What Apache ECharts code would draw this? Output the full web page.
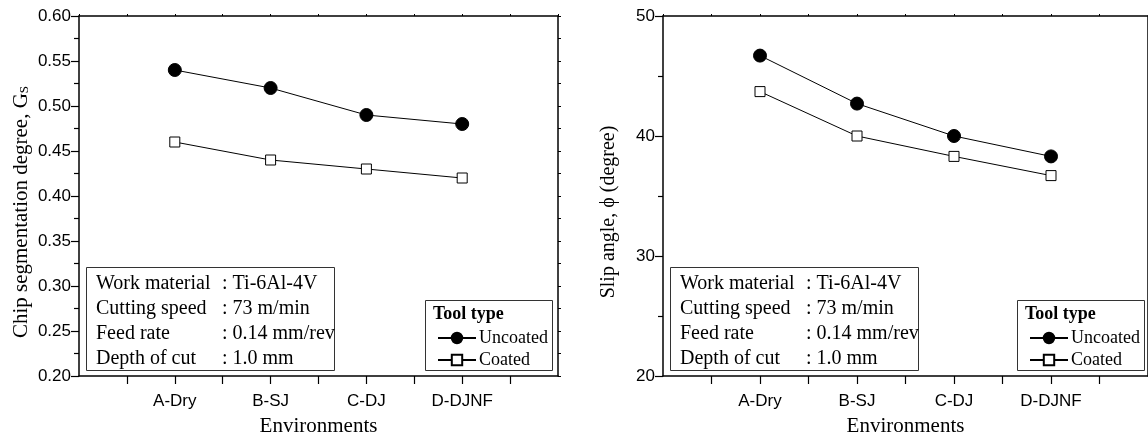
<!DOCTYPE html>
<html>
<head>
<meta charset="utf-8">
<title>Chip segmentation degree and slip angle</title>
<script src="https://cdn.jsdelivr.net/npm/echarts@6/dist/echarts.min.js"></script>
<style>
  html, body { margin: 0; padding: 0; background: #fff; }
  #chart { width: 1148px; height: 442px; }
</style>
</head>
<body>
<div id="chart"></div>
<script>
// Cutting environments along the x axis
const environments = ['A-Dry', 'B-SJ', 'C-DJ', 'D-DJNF'];

// Chip segmentation degree, Gs
const gsUncoated = [0.54, 0.52, 0.49, 0.48];
const gsCoated = [0.46, 0.44, 0.43, 0.42];

// Slip angle (degree)
const slipUncoated = [46.7, 42.7, 40.0, 38.3];
const slipCoated = [43.7, 40.0, 38.3, 36.7];

// Machining conditions shown in the boxed note
const conditionNames = ['Work material', 'Cutting speed', 'Feed rate', 'Depth of cut'];
const conditionValues = [': Ti-6Al-4V', ': 73 m/min', ': 0.14 mm/rev', ': 1.0 mm'];

const seriesNames = ['Uncoated', 'Coated'];

const SERIF = '"Liberation Serif", "Times New Roman", serif';
const SANS = '"Liberation Sans", Arial, sans-serif';

const grids = [
  { left: 79, top: 16, width: 479, height: 364 },
  { left: 663, top: 16, width: 487, height: 364 }
];

function toPoints(values) {
  return values.map((v, i) => [i + 1, v]);
}

function bottomAxis(gridIndex) {
  return {
    type: 'value', gridIndex, position: 'bottom',
    min: 0, max: 5, interval: 0.5,
    name: 'Environments', nameLocation: 'middle', nameGap: 40,
    nameTextStyle: { fontFamily: SERIF, fontSize: 21, color: '#000' },
    axisLine: { onZero: false, lineStyle: { color: '#000', width: 1.5 } },
    axisTick: { show: true, inside: false, length: 8, lineStyle: { color: '#000', width: 1.2 } },
    axisLabel: {
      margin: 17, fontFamily: SANS, fontSize: 17, color: '#000',
      showMinLabel: false, showMaxLabel: false,
      formatter: v => (Number.isInteger(v) && v >= 1 && v <= environments.length) ? environments[v - 1] : ''
    },
    splitLine: { show: false }
  };
}

function topAxis(gridIndex) {
  return {
    type: 'value', gridIndex, position: 'top',
    min: 0, max: 5, interval: 0.5,
    axisLine: { onZero: false, lineStyle: { color: '#000', width: 1.5 } },
    axisTick: { show: true, inside: false, length: 2, lineStyle: { color: '#000', width: 1 } },
    axisLabel: { show: false },
    splitLine: { show: false }
  };
}

function leftAxis(gridIndex, min, max, interval, digits) {
  return {
    type: 'value', gridIndex, position: 'left',
    min, max, interval,
    axisLine: { onZero: false, lineStyle: { color: '#000', width: 1.5 } },
    axisTick: { show: true, inside: false, length: 8, lineStyle: { color: '#000', width: 1.2 } },
    minorTick: { show: true, splitNumber: 2, length: 5, lineStyle: { color: '#000', width: 1.2 } },
    axisLabel: {
      margin: 8, fontFamily: SANS, fontSize: 17, color: '#000',
      formatter: v => v.toFixed(digits)
    },
    splitLine: { show: false },
    minorSplitLine: { show: false }
  };
}

function rightAxis(gridIndex, min, max, interval) {
  return {
    type: 'value', gridIndex, position: 'right',
    min, max, interval,
    axisLine: { onZero: false, lineStyle: { color: '#000', width: 1.5 } },
    axisTick: { show: true, inside: false, length: 3, lineStyle: { color: '#000', width: 1 } },
    minorTick: { show: true, splitNumber: 2, length: 3, lineStyle: { color: '#000', width: 1 } },
    axisLabel: { show: false },
    splitLine: { show: false },
    minorSplitLine: { show: false }
  };
}

function lineSeries(name, values, axisIdx, filled) {
  return {
    name, type: 'line', xAxisIndex: axisIdx, yAxisIndex: axisIdx,
    data: toPoints(values),
    symbol: filled ? 'circle' : 'rect',
    symbolSize: filled ? 13 : 10,
    showAllSymbol: true,
    lineStyle: { color: '#000', width: 1 },
    itemStyle: filled
      ? { color: '#000', borderColor: '#000', borderWidth: 1 }
      : { color: '#fff', borderColor: '#000', borderWidth: 1 },
    emphasis: { disabled: true },
    z: 3
  };
}

// Boxed note with machining conditions plus the framed legend area
function panelGraphics(g) {
  const els = [];
  const boxX = g.left + 7, boxY = 267, boxW = 248, boxH = 103;
  els.push({
    type: 'rect', z: 1,
    shape: { x: boxX + 0.5, y: boxY + 0.5, width: boxW, height: boxH },
    style: { fill: 'none', stroke: '#333', lineWidth: 1 }
  });
  conditionNames.forEach((label, i) => {
    const y = 284 + i * 25;
    els.push({
      type: 'text', z: 2, x: g.left + 17, y,
      style: { text: label, fontFamily: SERIF, fontSize: 20, fill: '#000', verticalAlign: 'middle' }
    });
    els.push({
      type: 'text', z: 2, x: g.left + 143, y,
      style: { text: conditionValues[i], fontFamily: SERIF, fontSize: 20, fill: '#000', verticalAlign: 'middle' }
    });
  });
  const right = g.left + g.width;
  const legX = right - 133;
  els.push({
    type: 'rect', z: 1,
    shape: { x: legX + 0.5, y: 300.5, width: 127, height: 70 },
    style: { fill: 'none', stroke: '#333', lineWidth: 1 }
  });
  els.push({
    type: 'text', z: 2, x: legX + 8, y: 314,
    style: { text: 'Tool type', fontFamily: SERIF, fontSize: 18, fontWeight: 'bold', fill: '#000', verticalAlign: 'middle' }
  });
  return els;
}

const option = {
  backgroundColor: '#fff',
  animation: false,
  grid: grids.map(g => Object.assign({ containLabel: false }, g)),
  xAxis: [bottomAxis(0), bottomAxis(1), topAxis(0), topAxis(1)],
  yAxis: [leftAxis(0, 0.2, 0.6, 0.05, 2), leftAxis(1, 20, 50, 10, 0), rightAxis(0, 0.2, 0.6, 0.05), rightAxis(1, 20, 50, 10)],
  legend: grids.map(g => ({
    data: seriesNames,
    orient: 'vertical',
    left: g.left + g.width - 126,
    top: 324,
    itemWidth: 38,
    itemHeight: 13,
    itemGap: 4,
    selectedMode: false,
    textStyle: { fontFamily: SERIF, fontSize: 18, color: '#000', padding: [0, 0, 0, -2] }
  })),
  graphic: [
    ...panelGraphics(grids[0]),
    ...panelGraphics(grids[1]),
    {
      type: 'text', x: 21, y: 212, rotation: Math.PI / 2,
      style: {
        text: '{m|Chip segmentation degree, G}{s|S}',
        align: 'center', verticalAlign: 'middle',
        rich: {
          m: { fontFamily: SERIF, fontSize: 21, fill: '#000', color: '#000' },
          s: { fontFamily: SERIF, fontSize: 13, fill: '#000', color: '#000', verticalAlign: 'bottom', padding: [7, 0, 0, 0] }
        }
      }
    },
    {
      type: 'text', x: 609, y: 212, rotation: Math.PI / 2,
      style: {
        text: 'Slip angle, \u03D5 (degree)',
        fontFamily: SERIF, fontSize: 20, fill: '#000',
        align: 'center', verticalAlign: 'middle'
      }
    }
  ],
  series: [
    lineSeries('Uncoated', gsUncoated, 0, true),
    lineSeries('Coated', gsCoated, 0, false),
    lineSeries('Uncoated', slipUncoated, 1, true),
    lineSeries('Coated', slipCoated, 1, false)
  ]
};

const chart = echarts.init(document.getElementById('chart'), null, { renderer: 'canvas' });
chart.setOption(option);
</script>
</body>
</html>
